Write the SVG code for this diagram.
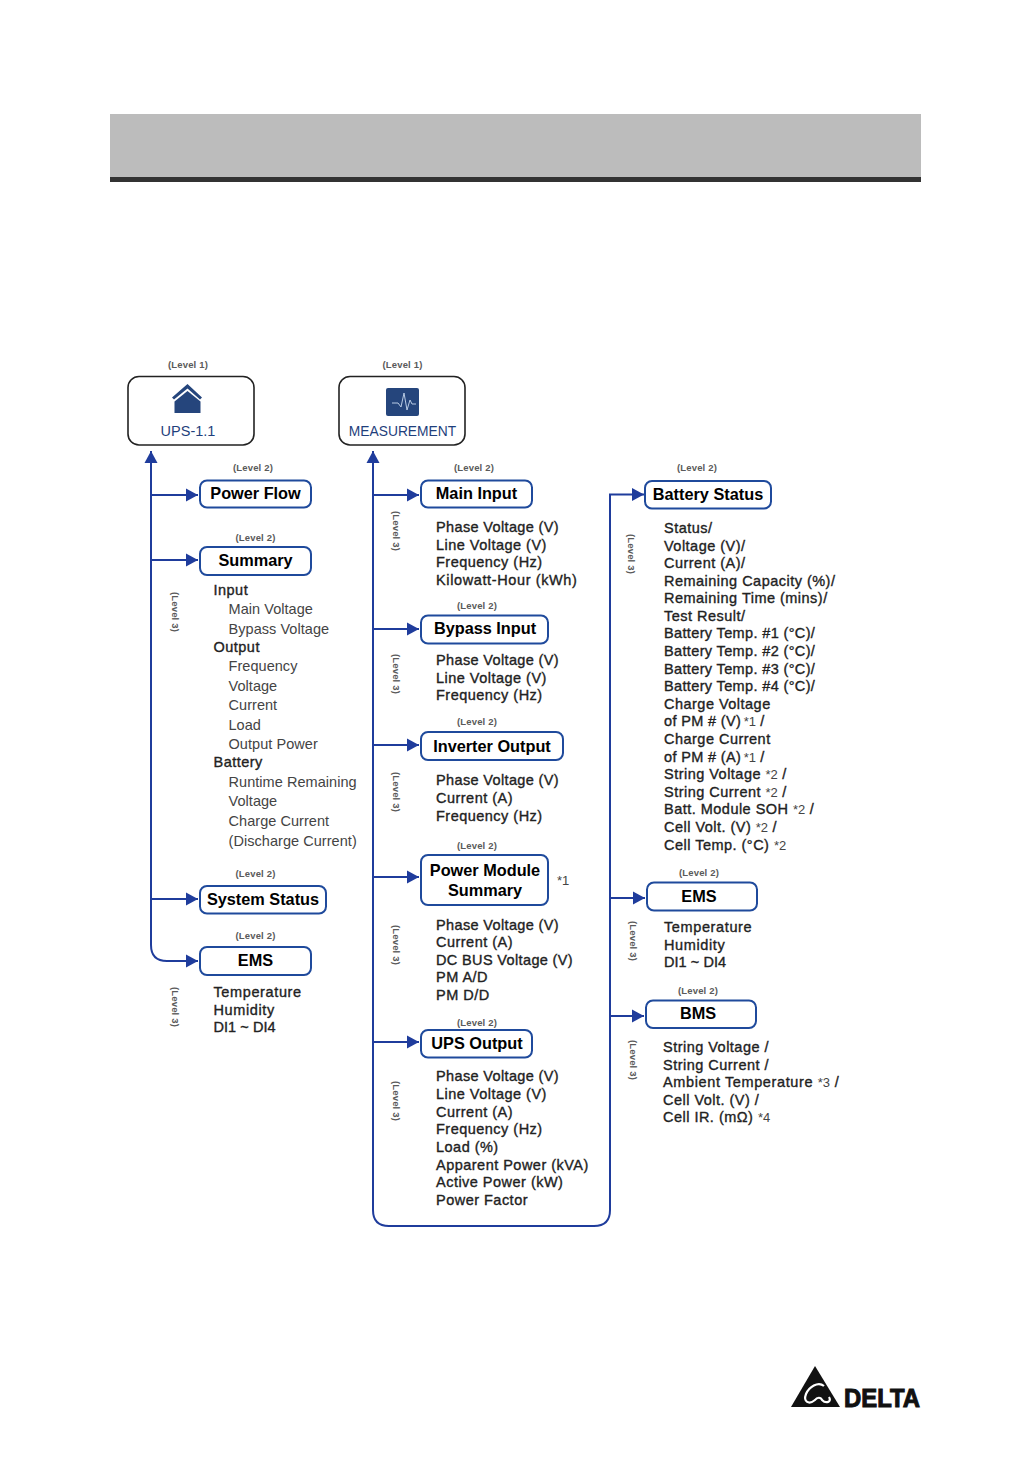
<svg xmlns="http://www.w3.org/2000/svg" width="1032" height="1458" viewBox="0 0 1032 1458">
<style>
text{font-family:"Liberation Sans",Arial,sans-serif;fill:#222}
.lv{font-size:9.5px;font-weight:bold;fill:#5a5a5a;text-anchor:middle;letter-spacing:.15px}
.t{font-size:16.300px;font-weight:bold;fill:#000;text-anchor:middle}
.b{font-size:14.500px;fill:#222;stroke:#222;stroke-width:.35;letter-spacing:.48px}
.p{letter-spacing:.36px}
.d{letter-spacing:.05px}
.h{letter-spacing:.62px}
.l{font-size:14.500px;fill:#444;letter-spacing:.05px}
.n{fill:#fff;stroke:#1f4a9c;stroke-width:2}
.k{fill:#fff;stroke:#222;stroke-width:1.600}
.c{fill:none;stroke:#1f3c9c;stroke-width:2}
.a{fill:#1f3c9c}
.s{font-size:13px;fill:#444;font-weight:normal;stroke:none;letter-spacing:0}
</style>
<defs><marker id="ah" markerUnits="userSpaceOnUse" markerWidth="13" markerHeight="14" refX="12" refY="7" orient="auto"><path class="a" d="M0 0.500L12 7L0 13.500Z"/></marker></defs>
<rect x="110" y="114" width="811" height="63" fill="#bcbcbc"/>
<rect x="110" y="177" width="811" height="5" fill="#333"/>
<g id="connectors">
<path class="c" d="M151 945V451" marker-end="url(#ah)"/>
<path class="c" d="M151 945Q151 961 167 961H198" marker-end="url(#ah)"/>
<path class="c" d="M151 495H198" marker-end="url(#ah)"/>
<path class="c" d="M151 560H198" marker-end="url(#ah)"/>
<path class="c" d="M151 899H198" marker-end="url(#ah)"/>
<path class="c" d="M373 1210V451" marker-end="url(#ah)"/>
<path class="c" d="M373 1210Q373 1226 389 1226H594Q610 1226 610 1210V494.500H644" marker-end="url(#ah)"/>
<path class="c" d="M373 495H419" marker-end="url(#ah)"/>
<path class="c" d="M373 629H419" marker-end="url(#ah)"/>
<path class="c" d="M373 745H419" marker-end="url(#ah)"/>
<path class="c" d="M373 877H419" marker-end="url(#ah)"/>
<path class="c" d="M373 1042H419" marker-end="url(#ah)"/>
<path class="c" d="M610 898H645" marker-end="url(#ah)"/>
<path class="c" d="M610 1016H644" marker-end="url(#ah)"/>
</g>
<g id="ups"><rect class="k" x="128" y="376.500" width="126" height="68.500" rx="11"/>
<path d="M187.500 384L202 397.500L200 399.500L187.500 388.500L174 399.500L172 397.500Z" fill="#25457c"/><path d="M187.500 391L200.500 401.500V413H174.500V401.500Z" fill="#25457c"/>
<text x="188" y="436" text-anchor="middle" style="font-size:14.500px;fill:#1f3f7c">UPS-1.1</text><text class="lv" x="188" y="367.500">(Level 1)</text></g>
<g id="measurement"><rect class="k" x="339" y="376.500" width="126" height="68.500" rx="11"/>
<rect x="386" y="388" width="33" height="28" rx="2" fill="#25457c"/><path d="M392 403H398L401 407L404 393L407 410L410 400L412 404H416" fill="none" stroke="#b9cbe4" stroke-width="1"/>
<text x="402.500" y="436" text-anchor="middle" style="font-size:13.800px;fill:#1f3f7c">MEASUREMENT</text><text class="lv" x="402.500" y="367.500">(Level 1)</text></g>
<g id="power-flow"><text class="lv" x="253" y="471">(Level 2)</text><rect class="n" x="200" y="480.500" width="111" height="27" rx="7"/><text class="t" x="255.500" y="499">Power Flow</text></g>
<g id="summary"><text class="lv" x="255.500" y="541">(Level 2)</text><rect class="n" x="200" y="547" width="111" height="28" rx="7"/><text class="t" x="255.500" y="566">Summary</text>
<text class="lv" transform="translate(172 612) rotate(90)">(Level 3)</text>
<text class="b" x="213.500" y="595">Input</text><text class="l" x="228.500" y="614">Main Voltage</text><text class="l" x="228.500" y="633.500">Bypass Voltage</text><text class="b" x="213.500" y="652">Output</text><text class="l" x="228.500" y="671">Frequency</text><text class="l" x="228.500" y="690.500">Voltage</text><text class="l" x="228.500" y="710">Current</text><text class="l" x="228.500" y="729.500">Load</text><text class="l" x="228.500" y="749">Output Power</text><text class="b" x="213.500" y="767">Battery</text><text class="l" x="228.500" y="787">Runtime Remaining</text><text class="l" x="228.500" y="806">Voltage</text><text class="l" x="228.500" y="825.500">Charge Current</text><text class="l" x="228.500" y="845.500">(Discharge Current)</text></g>
<g id="system-status"><text class="lv" x="255.500" y="877">(Level 2)</text><rect class="n" x="200" y="886" width="126" height="27.500" rx="7"/><text class="t" x="263" y="905">System Status</text></g>
<g id="ems-1"><text class="lv" x="255.500" y="939">(Level 2)</text><rect class="n" x="200" y="947" width="111" height="28" rx="7"/><text class="t" x="255.500" y="966">EMS</text>
<text class="lv" transform="translate(172 1007) rotate(90)">(Level 3)</text>
<text class="b h" x="213.500" y="997">Temperature</text><text class="b h" x="213.500" y="1015">Humidity</text><text class="b d" x="213.500" y="1032">DI1 ~ DI4</text></g>
<g id="main-input"><text class="lv" x="474" y="471">(Level 2)</text><rect class="n" x="421" y="480.500" width="111" height="27" rx="7"/><text class="t" x="476.500" y="499">Main Input</text>
<text class="lv" transform="translate(393 531) rotate(90)">(Level 3)</text>
<text class="b p" x="436" y="532">Phase Voltage (V)</text><text class="b" x="436" y="550">Line Voltage (V)</text><text class="b" x="436" y="567">Frequency (Hz)</text><text class="b h" x="436" y="585">Kilowatt-Hour (kWh)</text></g>
<g id="bypass-input"><text class="lv" x="477" y="609">(Level 2)</text><rect class="n" x="421" y="615.500" width="127" height="28" rx="7"/><text class="t" x="485" y="634">Bypass Input</text>
<text class="lv" transform="translate(393 674) rotate(90)">(Level 3)</text>
<text class="b p" x="436" y="665">Phase Voltage (V)</text><text class="b" x="436" y="683">Line Voltage (V)</text><text class="b" x="436" y="700">Frequency (Hz)</text></g>
<g id="inverter-output"><text class="lv" x="477" y="725">(Level 2)</text><rect class="n" x="421" y="732" width="142" height="28" rx="7"/><text class="t" x="492" y="752">Inverter Output</text>
<text class="lv" transform="translate(393 792) rotate(90)">(Level 3)</text>
<text class="b p" x="436" y="785">Phase Voltage (V)</text><text class="b" x="436" y="803">Current (A)</text><text class="b" x="436" y="821">Frequency (Hz)</text></g>
<g id="power-module-summary"><text class="lv" x="477" y="849">(Level 2)</text><rect class="n" x="421" y="855" width="127" height="50" rx="7"/><text class="t" x="485" y="876">Power Module</text><text class="t" x="485" y="896">Summary</text><text class="s" x="557" y="885">*1</text>
<text class="lv" transform="translate(393 945) rotate(90)">(Level 3)</text>
<text class="b p" x="436" y="930">Phase Voltage (V)</text><text class="b" x="436" y="947">Current (A)</text><text class="b p" x="436" y="965">DC BUS Voltage (V)</text><text class="b" x="436" y="982">PM A/D</text><text class="b" x="436" y="1000">PM D/D</text></g>
<g id="ups-output"><text class="lv" x="477" y="1026">(Level 2)</text><rect class="n" x="421" y="1030" width="111" height="27.500" rx="7"/><text class="t" x="477" y="1049">UPS Output</text>
<text class="lv" transform="translate(393 1101) rotate(90)">(Level 3)</text>
<text class="b p" x="436" y="1081">Phase Voltage (V)</text><text class="b" x="436" y="1099">Line Voltage (V)</text><text class="b" x="436" y="1117">Current (A)</text><text class="b" x="436" y="1134">Frequency (Hz)</text><text class="b" x="436" y="1152">Load (%)</text><text class="b" x="436" y="1170">Apparent Power (kVA)</text><text class="b" x="436" y="1187">Active Power (kW)</text><text class="b" x="436" y="1205">Power Factor</text></g>
<g id="battery-status"><text class="lv" x="697" y="471">(Level 2)</text><rect class="n" x="645" y="481" width="126" height="27.500" rx="7"/><text class="t" x="708" y="500">Battery Status</text>
<text class="lv" transform="translate(628 554) rotate(90)">(Level 3)</text>
<text class="b" x="664" y="533">Status/</text><text class="b" x="664" y="551">Voltage (V)/</text><text class="b" x="664" y="568">Current (A)/</text><text class="b" x="664" y="586">Remaining Capacity (%)/</text><text class="b" x="664" y="603">Remaining Time (mins)/</text><text class="b" x="664" y="621">Test Result/</text><text class="b p" x="664" y="638">Battery Temp. #1 (°C)/</text><text class="b p" x="664" y="656">Battery Temp. #2 (°C)/</text><text class="b p" x="664" y="674">Battery Temp. #3 (°C)/</text><text class="b p" x="664" y="691">Battery Temp. #4 (°C)/</text><text class="b" x="664" y="709">Charge Voltage</text><text class="b p" x="664" y="726">of PM # (V) <tspan class="s" dx="-2">*1</tspan> /</text><text class="b" x="664" y="744">Charge Current</text><text class="b p" x="664" y="762">of PM # (A) <tspan class="s" dx="-2">*1</tspan> /</text><text class="b" x="664" y="779">String Voltage <tspan class="s">*2</tspan> /</text><text class="b" x="664" y="797">String Current <tspan class="s">*2</tspan> /</text><text class="b" x="664" y="814">Batt. Module SOH <tspan class="s">*2</tspan> /</text><text class="b" x="664" y="832">Cell Volt. (V) <tspan class="s">*2</tspan> /</text><text class="b" x="664" y="850">Cell Temp. (°C) <tspan class="s">*2</tspan></text></g>
<g id="ems-2"><text class="lv" x="699" y="876">(Level 2)</text><rect class="n" x="647" y="882.500" width="110" height="28" rx="7"/><text class="t" x="699" y="902">EMS</text>
<text class="lv" transform="translate(630 941) rotate(90)">(Level 3)</text>
<text class="b h" x="664" y="932">Temperature</text><text class="b h" x="664" y="950">Humidity</text><text class="b d" x="664" y="967">DI1 ~ DI4</text></g>
<g id="bms"><text class="lv" x="698" y="994">(Level 2)</text><rect class="n" x="646" y="1000.500" width="110" height="27.500" rx="7"/><text class="t" x="698" y="1019">BMS</text>
<text class="lv" transform="translate(630 1060) rotate(90)">(Level 3)</text>
<text class="b" x="663" y="1052">String Voltage /</text><text class="b" x="663" y="1070">String Current /</text><text class="b h" x="663" y="1087">Ambient Temperature <tspan class="s">*3</tspan> /</text><text class="b" x="663" y="1105">Cell Volt. (V) /</text><text class="b" x="663" y="1122">Cell IR. (mΩ) <tspan class="s">*4</tspan></text></g>
<g id="delta-logo"><path d="M815 1366L791 1407H840Z" fill="#111"/><path d="M824 1386C818 1381 809 1387 806 1394C803 1402 809 1405 815 1400C817 1397 821 1397 822 1400C826 1404 832 1402 829 1397" fill="none" stroke="#fff" stroke-width="2.200"/>
<text x="844" y="1407" style="font-size:25px;font-weight:bold;fill:#111;stroke:#111;stroke-width:1" textLength="76" lengthAdjust="spacingAndGlyphs">DELTA</text></g>
</svg>
